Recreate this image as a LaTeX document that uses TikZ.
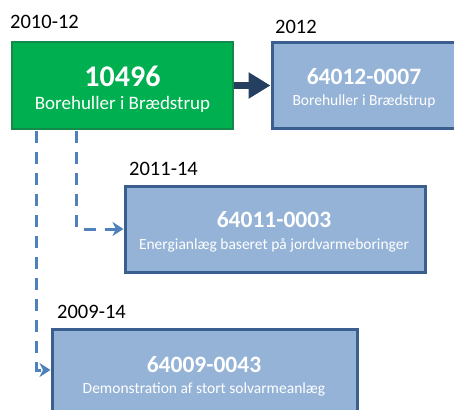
\documentclass[tikz,border=0pt]{standalone}
\usepackage{fontspec}
\setmainfont{Carlito}
\usetikzlibrary{arrows.meta}
\definecolor{gfill}{HTML}{00B050}
\definecolor{gline}{HTML}{13894A}
\definecolor{bfill}{HTML}{95B3D7}
\definecolor{bline}{HTML}{3A5F8F}
\definecolor{navy}{HTML}{243F60}
\definecolor{dashblue}{HTML}{4F81BD}
\tikzset{
  greenbox/.style={draw=gline, line width=2.5pt, fill=gfill, minimum width=221pt, minimum height=87pt, inner sep=0pt},
  bluebox/.style={draw=bline, line width=3pt, fill=bfill, inner sep=0pt},
  year/.style={font=\fontsize{20.5}{24}\selectfont, anchor=base west, inner sep=0pt},
  ttl/.style={text=white, font=\bfseries\fontsize{23.5}{27}\selectfont, inner sep=0pt},
  sub/.style={text=white, font=\fontsize{15.5}{18}\selectfont, inner sep=0pt},
  dashline/.style={draw=dashblue, line width=3pt, dash pattern=on 12pt off 9pt, -{Stealth[length=11pt,width=14pt,inset=3.5pt]}},
}
\begin{document}
\begin{tikzpicture}[x=1pt,y=-1pt]
\useasboundingbox (0,0) rectangle (454,409);
\begin{scope}
\clip (0,0) rectangle (454,409);
\node[greenbox] (g) at (122.5,85.5) {};
\node[bluebox, minimum width=183pt, minimum height=86pt] (b12) at (363.5,85.5) {};
\node[bluebox, minimum width=300pt, minimum height=86pt] (b11) at (275,229) {};
\node[bluebox, minimum width=305pt, minimum height=87pt] (b09) at (204.5,372.5) {};

\node[year] (y1) at (10,29) {2010-12};
\node[year] (y2) at (275,34) {2012};
\node[year] (y3) at (129,175) {2011-14};
\node[year] (y4) at (57,318) {2009-14};

\node[ttl, font=\bfseries\fontsize{30}{33}\selectfont] (t1) at (122.5,76) {10496};
\node[sub, font=\fontsize{19}{22}\selectfont] (s1) at (122.5,104) {Borehuller i Brædstrup};
\node[ttl] (t2) at (364,77) {64012-0007};
\node[sub] (s2) at (364,101) {Borehuller i Brædstrup};
\node[ttl] (t3) at (274,220) {64011-0003};
\node[sub] (s3) at (274,245) {Energianlæg baseret på jordvarmeboringer};
\node[ttl] (t4) at (204,365) {64009-0043};
\node[sub] (s4) at (204,389) {Demonstration af stort solvarmeanlæg};

\draw[navy, line width=7.5pt, -{Triangle[length=22pt,width=25pt]}] (g.east) -- (b12.west);
\draw[dashline] ([xshift=26pt,yshift=-1pt]g.south west) |- ([yshift=2.5pt]b09.west);
\draw[dashline] ([xshift=66pt,yshift=-1pt]g.south west) |- (b11.west);
\end{scope}
\end{tikzpicture}
\end{document}
